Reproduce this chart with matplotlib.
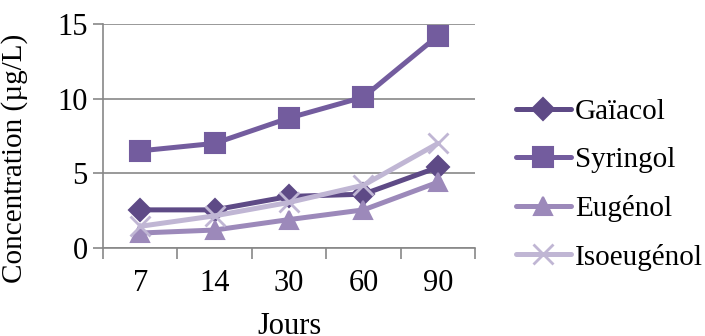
import matplotlib
matplotlib.use("Agg")
import matplotlib.pyplot as plt

plt.rcParams['font.family'] = ['Liberation Serif', 'DejaVu Serif']

categories = ["7", "14", "30", "60", "90"]
gaiacol = [2.55, 2.55, 3.45, 3.6, 5.4]
syringol = [6.5, 7.0, 8.7, 10.1, 14.2]
eugenol = [1.0, 1.2, 1.9, 2.55, 4.4]
isoeugenol = [1.45, 2.15, 3.05, 4.2, 7.0]
series_names = ["Gaïacol", "Syringol", "Eugénol", "Isoeugénol"]

colors = ["#5E4A86", "#735C9E", "#9C89BA", "#C0B6D4"]
markers = ["D", "s", "^", "x"]
msizes = [11, 14, 13, 14]

fig = plt.figure(figsize=(7.05, 3.36), dpi=100)
ax = fig.add_axes([0.146, 0.262, 0.528, 0.667])

x = list(range(len(categories)))
for vals, name, c, m, ms in zip([gaiacol, syringol, eugenol, isoeugenol], series_names, colors, markers, msizes):
    ax.plot(x, vals, color=c, lw=3.6, marker=m, markersize=ms, markeredgewidth=1.5 if m != "x" else 2.0,
            markeredgecolor=c, markerfacecolor=c, label=name, solid_joinstyle='round', solid_capstyle='round')

ax.set_xlim(-0.5, 4.5)
ax.set_ylim(0, 15)
ax.set_yticks([0, 5, 10, 15])
ax.set_xticks([i - 0.5 for i in range(len(categories) + 1)])
ax.set_xticklabels([])
ax.set_xticks(x, minor=True)
ax.set_xticklabels(categories, minor=True)
ax.tick_params(axis='x', which='major', length=8, width=1.2, color='#878787', direction='out')
ax.tick_params(axis='x', which='minor', length=0, labelsize=22, pad=15)
ax.tick_params(axis='y', length=7, width=1.2, color='#878787', labelsize=22, pad=4)

ax.grid(axis='y', color='#878787', lw=1.2)
ax.set_axisbelow(True)
for s in ['top', 'right']:
    ax.spines[s].set_visible(False)
for s in ['left', 'bottom']:
    ax.spines[s].set_color('#878787')
    ax.spines[s].set_linewidth(1.2)

ax.set_ylabel("Concentration (µg/L)", fontsize=21)
ax.yaxis.set_label_coords(-0.2, 0.40)
ax.set_xlabel("Jours", fontsize=22, labelpad=10)

leg = ax.legend(loc='center left', bbox_to_anchor=(1.07, 0.282), frameon=False, fontsize=21,
                handlelength=1.88, handletextpad=0.15, labelspacing=0.74, borderpad=0)

fig.savefig("out.png", dpi=100)
